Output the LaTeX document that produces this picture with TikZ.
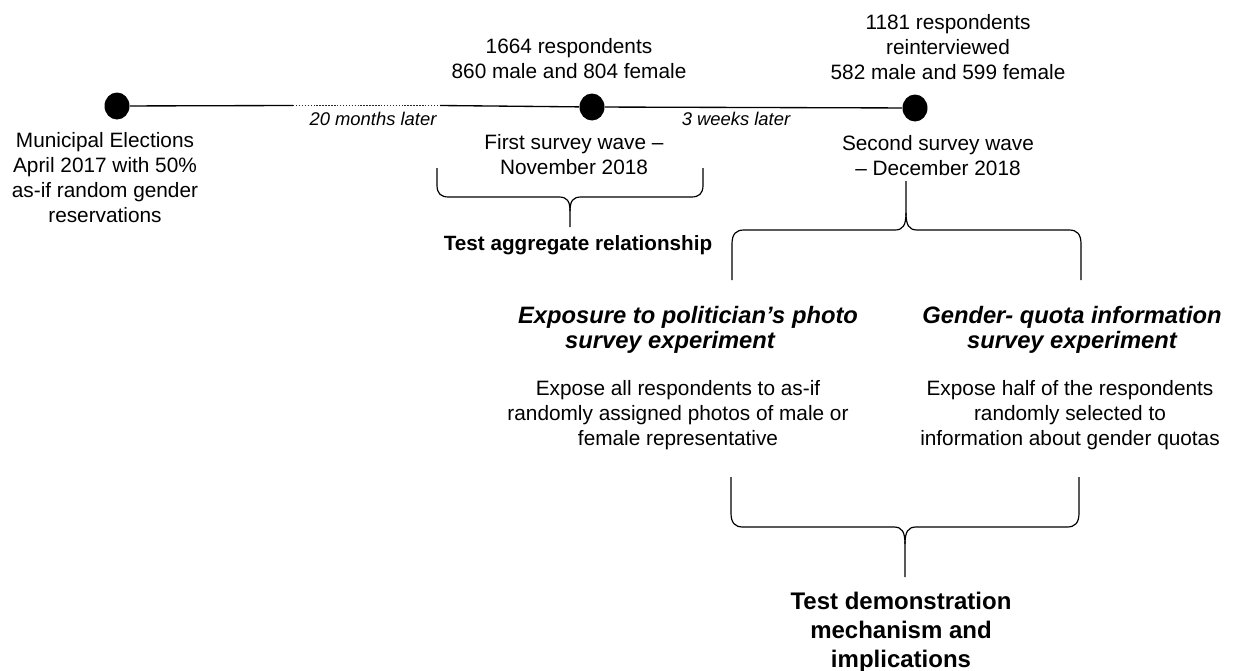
\documentclass[tikz,border=0pt]{standalone}
\usepackage{fontspec}
\setmainfont{Liberation Sans}
\usetikzlibrary{shapes.geometric}
\begin{document}
\begin{tikzpicture}[x=0.75pt,y=-0.75pt,
  txt/.style={font=\fontsize{15.6}{18.75}\selectfont, align=center, inner sep=0pt},
  lat/.style={font=\fontsize{13.8}{16}\selectfont\itshape, inner sep=0pt},
  head/.style={font=\fontsize{17.8}{18.75}\selectfont\bfseries\itshape, align=center, inner sep=0pt},
  concla/.style={font=\fontsize{15.5}{18}\selectfont\bfseries, align=center, inner sep=0pt},
  conclb/.style={font=\fontsize{18}{21.4}\selectfont\bfseries, align=center, inner sep=0pt},
  dot/.style={ellipse, fill=black, inner sep=0pt, minimum width=18.75pt, minimum height=20.25pt},
  tl/.style={line width=1pt},
  brace/.style={line width=0.9pt, line join=round}
]
\useasboundingbox (0,0) rectangle (1236,671);

% timeline
\node[dot] (d1) at (117,106) {};
\node[dot] (d2) at (592,107) {};
\node[dot] (d3) at (915,108) {};
\coordinate (p1) at (293,105.5);
\coordinate (p2) at (440,105.5);
\draw[tl] (d1) -- (p1);
\draw[line width=1.3pt, dash pattern=on 1.1pt off 1.1pt, black!85] (p1) -- (p2);
\draw[tl] (p2) -- (d2);
\draw[tl] (d2) -- (d3);

\node[lat, anchor=base] (l1) at (373,125) {20 months later};
\node[lat, anchor=base] (l2) at (736,125) {3 weeks later};

% texts (anchor base = last line's baseline)
\node[txt, anchor=base] (muni) at (105,222) {Municipal Elections\\April 2017 with 50\%\\as-if random gender\\reservations};
\node[txt, anchor=base] (r1) at (569,78) {1664 respondents\\860 male and 804 female};
\node[txt, anchor=base] (r2) at (948,79) {1181 respondents\\reinterviewed\\582 male and 599 female};
\node[txt, anchor=base] (w1) at (574,174) {First survey wave –\\November 2018};
\node[txt, anchor=base] (w2) at (938,175) {Second survey wave\\– December 2018};

\node[concla, anchor=base] (agg) at (578,250) {Test aggregate relationship};

\node[head, anchor=base] (h1) at (688,348) {Exposure to politician’s photo\\\hspace*{-27pt}survey experiment};
\node[head, anchor=base] (h2) at (1072,348) {Gender- quota information\\survey experiment};
\node[txt, anchor=base] (b1) at (678,445) {Expose all respondents to as-if\\randomly assigned photos of male or\\female representative};
\node[txt, anchor=base] (b2) at (1070,445) {Expose half of the respondents\\randomly selected to\\information about gender quotas};

\node[conclb, anchor=base] (dem) at (901,667) {Test demonstration\\mechanism and\\implications};

% brace 1 (tip down)
\coordinate (a1) at (437,168);
\coordinate (a2) at (703,168);
\coordinate (at) at (570,227);
\draw[brace] (a1) -- (437,185) .. controls (437,194) and (441,197) .. (449,197) -- (559,197)
  .. controls (567,197) and (570,201) .. (570,211) -- (at);
\draw[brace] (a2) -- (703,185) .. controls (703,194) and (699,197) .. (691,197) -- (581,197)
  .. controls (573,197) and (570,201) .. (570,211);

% brace 2 (tip up)
\coordinate (c1) at (732,280);
\coordinate (c2) at (1081,280);
\coordinate (ct) at (906,181);
\draw[brace] (c1) -- (732,244) .. controls (732,234) and (736,230) .. (744,230) -- (895,230)
  .. controls (903,230) and (906,225) .. (906,213) -- (ct);
\draw[brace] (c2) -- (1081,244) .. controls (1081,234) and (1077,230) .. (1069,230) -- (917,230)
  .. controls (909,230) and (906,225) .. (906,213);

% brace 3 (tip down)
\coordinate (e1) at (731,477);
\coordinate (e2) at (1079,477);
\coordinate (et) at (905,577);
\draw[brace] (e1) -- (731,513) .. controls (731,523) and (735,527) .. (743,527) -- (894,527)
  .. controls (902,527) and (905,532) .. (905,544) -- (et);
\draw[brace] (e2) -- (1079,513) .. controls (1079,523) and (1075,527) .. (1067,527) -- (916,527)
  .. controls (908,527) and (905,532) .. (905,544);
\end{tikzpicture}
\end{document}
